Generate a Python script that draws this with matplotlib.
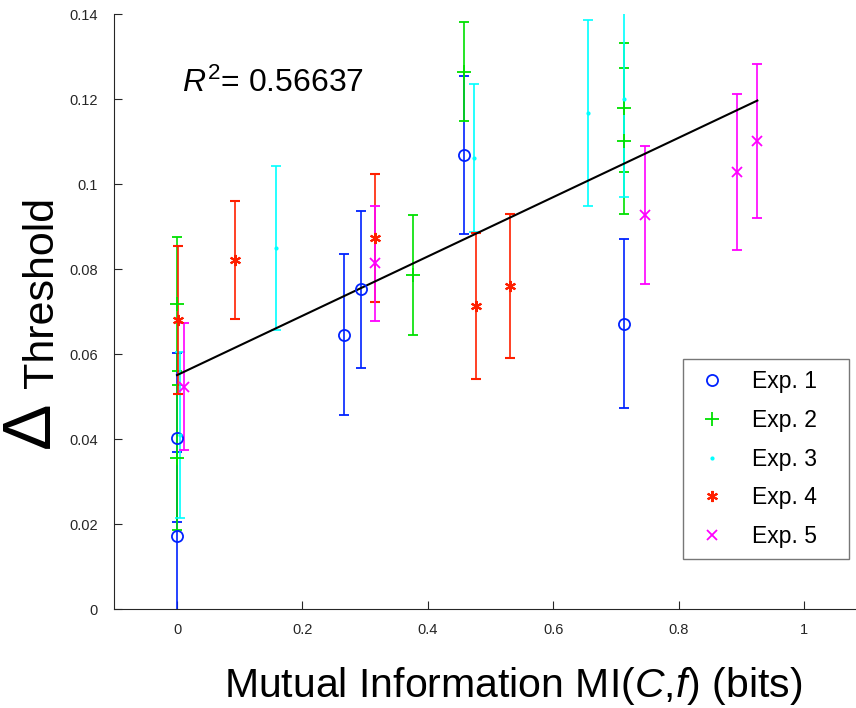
import numpy as np
import matplotlib.pyplot as plt
from matplotlib.lines import Line2D
from matplotlib.ticker import FuncFormatter

plt.rcParams['font.family'] = ['Liberation Sans', 'DejaVu Sans']
plt.rcParams['mathtext.fontset'] = 'custom'
plt.rcParams['mathtext.rm'] = 'Liberation Sans'
plt.rcParams['mathtext.it'] = 'Liberation Sans:italic'

# values: MI (bits), delta threshold, error half-width
exp1_x = [0.0, 0.0, 0.266, 0.2935, 0.458, 0.7134]
exp1_y = [0.0172, 0.0404, 0.0646, 0.0753, 0.1069, 0.0672]
exp1_e = [0.0199, 0.0199, 0.0189, 0.0185, 0.0187, 0.0199]

exp2_x = [0.0, 0.0, 0.377, 0.458, 0.7134, 0.7134]
exp2_y = [0.0718, 0.0357, 0.0787, 0.1265, 0.118, 0.1101]
exp2_e = [0.0157, 0.0171, 0.0141, 0.0116, 0.0152, 0.0172]

exp3_x = [0.005, 0.158, 0.4737, 0.6555, 0.7134]
exp3_y = [0.041, 0.085, 0.1061, 0.1168, 0.12]
exp3_e = [0.0195, 0.0194, 0.0174, 0.0218, 0.023]

exp4_x = [0.002, 0.0925, 0.3158, 0.4764, 0.5316]
exp4_y = [0.068, 0.0822, 0.0874, 0.0714, 0.0761]
exp4_e = [0.0174, 0.0139, 0.015, 0.0172, 0.017]

exp5_x = [0.0112, 0.3158, 0.7464, 0.8926, 0.9256]
exp5_y = [0.0524, 0.0814, 0.0928, 0.1029, 0.1102]
exp5_e = [0.015, 0.0136, 0.0163, 0.0184, 0.0182]

labels = ['Exp. 1', 'Exp. 2', 'Exp. 3', 'Exp. 4', 'Exp. 5']
colors = ['#0022ff', '#00e000', '#00ffff', '#ff2000', '#ff00ff']

# regression line as drawn
fit_intercept = 0.0551
fit_slope = 0.0698
r2 = 0.56637

series = [(exp1_x, exp1_y, exp1_e), (exp2_x, exp2_y, exp2_e), (exp3_x, exp3_y, exp3_e),
          (exp4_x, exp4_y, exp4_e), (exp5_x, exp5_y, exp5_e)]
markers = [dict(marker='o', ms=8, mfc='none', mew=1.3),
           dict(marker='+', ms=10, mew=1.3),
           dict(marker='.', ms=4),
           dict(marker=(6, 2, 0), ms=8, mew=1.5),
           dict(marker='x', ms=7, mew=1.3)]

fig = plt.figure(figsize=(8.56, 7.08), dpi=100)
ax = fig.add_axes([114.3 / 856, (708 - 609.3) / 708, 752.4 / 856, 595 / 708])

for (x, y, e), c, m in zip(series, colors, markers):
    ax.errorbar(x, y, yerr=e, ls='none', color=c, ecolor=c, elinewidth=1.2,
                capsize=3.6, capthick=1.2, **m)

all_x = np.concatenate([s[0] for s in series])
xs = np.array([all_x.min(), all_x.max()])
ax.plot(xs, fit_intercept + fit_slope * xs, color='k', lw=1.5)

ax.text(0.0075, 0.1217, r'$R^2$' + '= %.5f' % r2, fontsize=23, va='baseline')

ax.set_xlim(-0.1, 1.1)
ax.set_ylim(0, 0.14)
ax.set_xticks(np.arange(0, 1.01, 0.2))
ax.set_yticks(np.arange(0, 0.141, 0.02))
fmt = FuncFormatter(lambda v, p: '%g' % round(v, 3))
ax.xaxis.set_major_formatter(fmt)
ax.yaxis.set_major_formatter(fmt)
ax.tick_params(direction='in', length=6, width=0.8, labelsize=10.5,
               colors='#262626')
ax.tick_params(axis='y', pad=12)
ax.tick_params(axis='x', pad=10)
for s in ['top', 'right']:
    ax.spines[s].set_visible(False)
for s in ['left', 'bottom']:
    ax.spines[s].set_color('#262626')
    ax.spines[s].set_linewidth(0.8)

handles = [Line2D([], [], ls='none', color=c, **m) for c, m in zip(colors, markers)]
leg_w = (849 - 683) / 752.4
leg_h = (558 - 359) / 595
leg = ax.legend(handles, labels, loc='upper left', mode='expand',
                bbox_to_anchor=(0.756, 0.4207 - leg_h, leg_w, leg_h),
                fontsize=16.5, frameon=True, fancybox=False, edgecolor='#555555',
                labelspacing=0.68, handletextpad=1.0, handlelength=1.5,
                borderpad=0.5, borderaxespad=0)
leg.get_frame().set_linewidth(1.0)

fig.text(513 / 856, 1 - 686 / 708, r'Mutual Information MI($C$,$f$) (bits)',
         fontsize=29.5, ha='center', va='center')
fig.text(42.5 / 856, 1 - 292 / 708, 'Threshold', fontsize=31, rotation=90,
         ha='center', va='center')
fig.text(31 / 856, 1 - 425 / 708, '\u0394', fontsize=50, rotation=90,
         ha='center', va='center')

fig.savefig('out.png', dpi=100)
